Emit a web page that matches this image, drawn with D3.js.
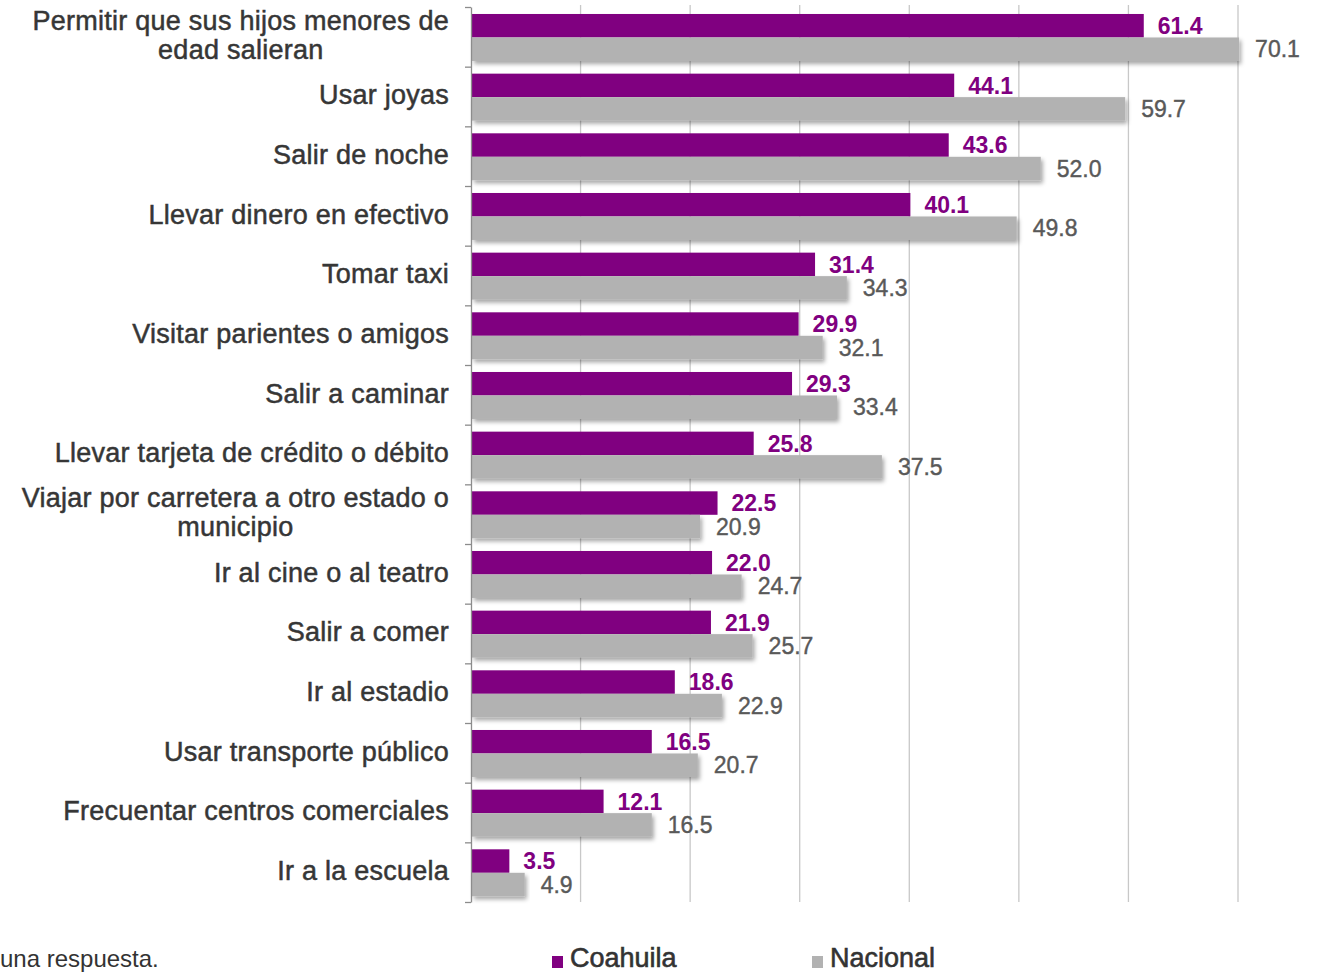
<!DOCTYPE html>
<html>
<head>
<meta charset="utf-8">
<script src="https://cdn.jsdelivr.net/npm/d3@7"></script>
<style>
  html, body { margin: 0; padding: 0; background: #fff; }
  svg { display: block; }
</style>
</head>
<body>
<svg id="chart" width="1327" height="973"></svg>
<script>
const categories = [
  "Permitir que sus hijos menores de|edad salieran",
  "Usar joyas",
  "Salir de noche",
  "Llevar dinero en efectivo",
  "Tomar taxi",
  "Visitar parientes o amigos",
  "Salir a caminar",
  "Llevar tarjeta de crédito o débito",
  "Viajar por carretera a otro estado o|municipio",
  "Ir al cine o al teatro",
  "Salir a comer",
  "Ir al estadio",
  "Usar transporte público",
  "Frecuentar centros comerciales",
  "Ir a la escuela"
];
const coahuila = [61.4, 44.1, 43.6, 40.1, 31.4, 29.9, 29.3, 25.8, 22.5, 22.0, 21.9, 18.6, 16.5, 12.1, 3.5];
const nacional = [70.1, 59.7, 52.0, 49.8, 34.3, 32.1, 33.4, 37.5, 20.9, 24.7, 25.7, 22.9, 20.7, 16.5, 4.9];
const seriesNames = ["Coahuila", "Nacional"];
const gridTicks = [0, 10, 20, 30, 40, 50, 60, 70];
const footnote = "una respuesta.";

const colors = { Coahuila: "#800080", Nacional: "#B2B2B2" };
const labelColors = { Coahuila: "#800080", Nacional: "#595959" };

const svg = d3.select("#chart");
const FONT = "'Liberation Sans', Arial, sans-serif";

const defs = svg.append("defs");
const f = defs.append("filter").attr("id", "shadow")
  .attr("x", "-5%").attr("y", "-30%").attr("width", "115%").attr("height", "180%");
f.append("feDropShadow").attr("dx", 2).attr("dy", 3).attr("stdDeviation", 2)
  .attr("flood-color", "#000").attr("flood-opacity", 0.35);

const x = d3.scaleLinear().domain([0, 70]).range([471, 1238]);
const y = d3.scaleBand().domain(categories).range([7, 902]).padding(0);
const ySub = d3.scaleBand().domain(seriesNames).range([0, y.bandwidth()])
  .paddingInner(0).paddingOuter(0.27).align(0.55);

// gridlines
svg.append("g").selectAll("line").data(gridTicks.slice(1)).join("line")
  .attr("x1", d => x(d)).attr("x2", d => x(d))
  .attr("y1", 5).attr("y2", 902)
  .attr("stroke", "#c8c8c8").attr("stroke-width", 1.3);

const rows = categories.map((c, i) => ({ cat: c, Coahuila: coahuila[i], Nacional: nacional[i] }));

// bars
const groups = svg.append("g").selectAll("g").data(rows).join("g")
  .attr("transform", d => `translate(0,${y(d.cat)})`);

groups.selectAll("rect").data(d => seriesNames.map(s => ({ s, v: d[s] }))).join("rect")
  .attr("x", x(0) + 1)
  .attr("y", d => ySub(d.s))
  .attr("width", d => x(d.v) - x(0) - 1)
  .attr("height", ySub.bandwidth())
  .attr("fill", d => colors[d.s])
  .attr("filter", d => d.s === "Nacional" ? "url(#shadow)" : null);

// value labels
groups.selectAll("text.val").data(d => seriesNames.map(s => ({ s, v: d[s] }))).join("text")
  .attr("class", "val")
  .attr("x", d => x(d.v) + (d.s === "Coahuila" ? 14 : 16))
  .attr("y", d => ySub(d.s) + ySub.bandwidth() / 2)
  .attr("dy", "0.36em")
  .attr("font-family", FONT)
  .attr("font-size", 23)
  .attr("font-weight", d => d.s === "Coahuila" ? "bold" : "normal")
  .attr("fill", d => labelColors[d.s])
  .attr("stroke", d => d.s === "Nacional" ? labelColors[d.s] : "none")
  .attr("stroke-width", 0.4)
  .text(d => d.v.toFixed(1));

// left axis with ticks at category boundaries
const yIdx = d3.scaleLinear().domain([0, categories.length]).range([7, 902]);
svg.append("g").attr("transform", `translate(${x(0)},0)`)
  .call(d3.axisLeft(yIdx).tickValues(d3.range(categories.length + 1))
    .tickSize(6).tickSizeOuter(0).tickFormat(""))
  .call(g => g.select(".domain").attr("stroke", "#8c8c8c").attr("stroke-width", 1.3))
  .call(g => g.selectAll(".tick line").attr("stroke", "#8c8c8c").attr("stroke-width", 1.3));

// category labels
const labelG = svg.append("g");
categories.forEach(c => {
  const lines = c.split("|");
  const cy = y(c) + y.bandwidth() / 2 - 2;
  const lh = 29;
  const t = labelG.append("g");
  const texts = lines.map((ln, i) => t.append("text")
    .attr("x", 449)
    .attr("y", cy + (i - (lines.length - 1) / 2) * lh)
    .attr("dy", "0.36em")
    .attr("text-anchor", "end")
    .attr("font-family", FONT)
    .attr("font-size", 27)
    .attr("letter-spacing", 0.25)
    .attr("fill", "#363636")
    .attr("stroke", "#363636").attr("stroke-width", 0.5)
    .text(ln));
  if (lines.length > 1) {
    const widths = texts.map(tx => tx.node().getComputedTextLength());
    const maxW = d3.max(widths);
    texts.forEach((tx, i) => tx.attr("x", 449 - (maxW - widths[i]) / 2));
  }
});

// legend
const legend = svg.append("g");
const legendX = [552, 812];
seriesNames.forEach((s, i) => {
  legend.append("rect").attr("x", legendX[i]).attr("y", 956).attr("width", 11).attr("height", 12)
    .attr("fill", colors[s]);
  legend.append("text").attr("x", legendX[i] + 18).attr("y", 967)
    .attr("font-family", FONT).attr("font-size", 27)
    .attr("fill", "#333").attr("stroke", "#333").attr("stroke-width", 0.6)
    .text(s);
});

// footnote
svg.append("text").attr("x", 0).attr("y", 967)
  .attr("font-family", FONT).attr("font-size", 24).attr("fill", "#333")
  .text(footnote);
</script>
</body>
</html>
